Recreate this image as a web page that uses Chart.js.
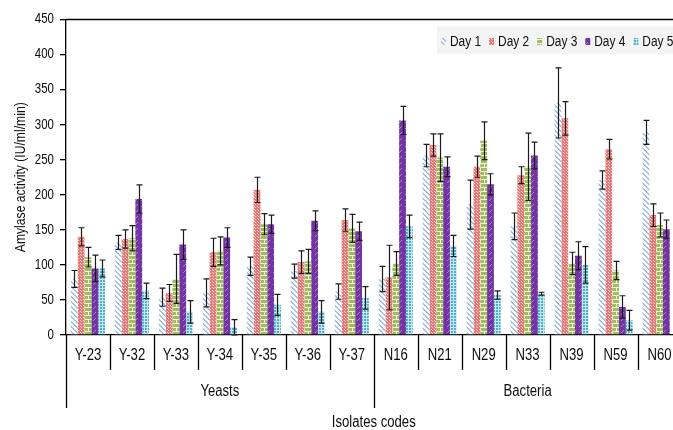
<!DOCTYPE html>
<html>
<head>
<meta charset="utf-8">
<title>Amylase activity</title>
<script src="https://cdn.jsdelivr.net/npm/chart.js@4.4.1/dist/chart.umd.min.js"></script>
<style>
  html, body { margin: 0; padding: 0; background: #fff; overflow: hidden; }
  #wrap { width: 690px; height: 430px; position: relative; }
</style>
</head>
<body>
<div id="wrap"><canvas id="c" width="690" height="430"></canvas></div>
<script>
// Isolate codes and their groups
const categories = ['Y-23','Y-32','Y-33','Y-34','Y-35','Y-36','Y-37','N16','N21','N29','N33','N39','N59','N60'];
const groupNames = ['Yeasts', 'Bacteria'];
const groupSizes = [7, 7];
const dayLabels = ['Day 1','Day 2','Day 3','Day 4','Day 5'];
const yTicks = [0, 50, 100, 150, 200, 250, 300, 350, 400, 450];

// Mean amylase activity (IU/ml/min) per day
const day1 = [80, 132, 54, 60, 98, 91, 62, 80, 256, 186, 155, 331, 221, 289];
const day2 = [140, 137, 60, 118, 207, 104, 164, 82, 271, 240, 228, 309, 265, 171];
const day3 = [111, 138, 80, 120, 158, 105, 152, 102, 253, 277, 240, 102, 92, 157];
const day4 = [95, 194, 129, 139, 158, 163, 148, 306, 240, 215, 256, 113, 40, 151];
const day5 = [95, 63, 33, 11, 43, 33, 53, 155, 127, 57, 59, 100, 21, null];

// Standard deviations
const sd1 = [12, 10, 13, 20, 13, 10, 11, 18, 16, 35, 19, 50, 13, 17];
const sd2 = [13, 13, 12, 20, 18, 16, 16, 46, 16, 15, 12, 24, 14, 16];
const sd3 = [14, 18, 35, 20, 15, 17, 20, 17, 34, 27, 48, 16, 13, 17];
const sd4 = [19, 20, 21, 14, 13, 14, 13, 20, 14, 15, 19, 20, 16, 13];
const sd5 = [12, 11, 16, 11, 15, 16, 16, 16, 15, 6, 2, 26, 14, null];

const FONT = '"Liberation Sans", Arial, sans-serif';

// Small repeating fills for each day
function tile(w, h, paint) {
  const c = document.createElement('canvas');
  c.width = w; c.height = h;
  const g = c.getContext('2d');
  paint(g, w, h);
  return g.createPattern(c, 'repeat');
}
const fills = [
  tile(5, 5, (g, w) => {            // light blue hatching
    g.fillStyle = '#ffffff'; g.fillRect(0, 0, w, w);
    g.fillStyle = '#a3bfe6';
    for (let i = 0; i < w; i++) { g.fillRect(i, i, 1, 1); g.fillRect(i, (i + 1) % w, 1, 1); }
  }),
  tile(3, 3, (g) => {               // red check
    g.fillStyle = '#e67a78'; g.fillRect(0, 0, 3, 3);
    g.fillStyle = '#f8d0cd'; g.fillRect(0, 0, 1, 1); g.fillRect(2, 2, 1, 1);
  }),
  tile(8, 8, (g) => {               // green brick
    g.fillStyle = '#9fbc5e'; g.fillRect(0, 0, 8, 8);
    g.fillStyle = '#eef3dc';
    g.fillRect(0, 3, 8, 1); g.fillRect(0, 7, 8, 1);
    g.fillRect(0, 0, 1, 3); g.fillRect(4, 4, 1, 3);
  }),
  tile(6, 6, (g, w) => {            // purple with light dashes
    g.fillStyle = '#7434a4'; g.fillRect(0, 0, w, w);
    g.fillStyle = '#a883cc';
    for (let i = 0; i < 3; i++) g.fillRect(w - 1 - i, i, 1, 1);
  }),
  tile(3, 3, (g) => {               // teal grid
    g.fillStyle = '#4cb0c9'; g.fillRect(0, 0, 3, 3);
    g.fillStyle = '#c7e7ef'; g.fillRect(0, 0, 3, 1); g.fillRect(0, 0, 1, 3);
  })
];

const series = [day1, day2, day3, day4, day5];
const errors = [sd1, sd2, sd3, sd4, sd5];

// narrow text helper: size in px, horizontal squeeze factor
function text(ctx, s, x, y, align, size, squeeze) {
  ctx.save();
  ctx.font = size + 'px ' + FONT;
  ctx.translate(x, y);
  ctx.scale(squeeze, 1);
  ctx.textAlign = align;
  ctx.textBaseline = 'middle';
  ctx.fillText(s, 0, 0);
  const w = ctx.measureText(s).width * squeeze;
  ctx.restore();
  return w;
}

// Error bars on top of every bar
const errorBarPlugin = {
  id: 'errorBars',
  afterDatasetsDraw(chart) {
    const ctx = chart.ctx, y = chart.scales.y;
    ctx.save();
    ctx.strokeStyle = '#1a1a1a';
    ctx.lineWidth = 1.2;
    chart.data.datasets.forEach((ds, i) => {
      const meta = chart.getDatasetMeta(i);
      meta.data.forEach((bar, j) => {
        const v = ds.data[j], e = errors[i][j];
        if (v == null || e == null) return;
        const x = Math.round(bar.x) + 0.5;
        const top = y.getPixelForValue(v + e), bot = y.getPixelForValue(v - e);
        ctx.beginPath();
        ctx.moveTo(x, top); ctx.lineTo(x, bot);
        ctx.moveTo(x - 3, top); ctx.lineTo(x + 3, top);
        ctx.moveTo(x - 3, bot); ctx.lineTo(x + 3, bot);
        ctx.stroke();
      });
    });
    ctx.restore();
  }
};

// Frame line, tick labels, category separators, group labels, titles and legend
const decorPlugin = {
  id: 'decor',
  afterDraw(chart) {
    const ctx = chart.ctx, area = chart.chartArea, xs = chart.scales.x, ys = chart.scales.y;
    const n = categories.length;
    const step = (area.right - area.left) / n;
    ctx.save();
    ctx.strokeStyle = '#000';
    ctx.lineWidth = 1.3;
    // top frame
    ctx.beginPath();
    ctx.moveTo(area.left, area.top); ctx.lineTo(area.right, area.top);
    ctx.stroke();
    // separators below the axis
    const bounds = [0];
    groupSizes.reduce((acc, s) => { bounds.push(acc + s); return acc + s; }, 0);
    for (let k = 0; k <= n; k++) {
      const bx = Math.round(area.left + k * step) + 0.5;
      const long = bounds.includes(k);
      ctx.beginPath();
      ctx.moveTo(bx, area.bottom);
      ctx.lineTo(bx, long ? 408 : 370);
      ctx.stroke();
    }
    ctx.fillStyle = '#0d0d0d';
    // tick labels
    yTicks.forEach(v => text(ctx, String(v), 54, ys.getPixelForValue(v), 'right', 14, 0.82));
    categories.forEach((c, i) => text(ctx, c, xs.getPixelForValue(i), 356, 'center', 16, 0.82));
    // group labels
    for (let g = 0; g < groupNames.length; g++) {
      const a = area.left + bounds[g] * step, b = area.left + bounds[g + 1] * step;
      text(ctx, groupNames[g], (a + b) / 2, 392, 'center', 16, 0.82);
    }
    text(ctx, 'Isolates codes', (area.left + area.right) / 2, 423, 'center', 16, 0.82);
    // y-axis title
    ctx.save();
    ctx.translate(21, (area.top + area.bottom) / 2);
    ctx.rotate(-Math.PI / 2);
    text(ctx, 'Amylase activity (IU/ml/min)', 0, 0, 'center', 15, 0.81);
    ctx.restore();
    // legend
    ctx.fillStyle = '#f4f4f4';
    ctx.fillRect(437, 26, 260, 28);
    let lx = 441;
    dayLabels.forEach((lab, i) => {
      ctx.fillStyle = fills[i];
      ctx.fillRect(lx, 38, 5, 7);
      ctx.fillStyle = '#0d0d0d';
      const w = text(ctx, lab, lx + 9, 42, 'left', 14, 0.85);
      lx += 9 + w + 8;
    });
    ctx.restore();
  }
};

new Chart(document.getElementById('c'), {
  type: 'bar',
  data: {
    labels: categories,
    datasets: series.map((d, i) => ({
      label: dayLabels[i],
      data: d,
      backgroundColor: fills[i],
      borderWidth: 0,
      barPercentage: 1.0,
      categoryPercentage: 0.775
    }))
  },
  options: {
    responsive: false,
    animation: false,
    devicePixelRatio: 1,
    layout: { padding: { left: 0, right: 8.5, top: 19.5, bottom: 0 } },
    plugins: { legend: { display: false }, tooltip: { enabled: false } },
    scales: {
      x: {
        offset: true,
        grid: { display: false },
        border: { color: '#000', width: 1.3 },
        ticks: { display: false },
        afterFit(s) { s.height = 95; }
      },
      y: {
        min: 0, max: 450,
        afterBuildTicks(s) { s.ticks = yTicks.map(v => ({ value: v })); },
        grid: { drawOnChartArea: false, color: '#000', tickLength: 6, lineWidth: 1.3 },
        border: { color: '#000', width: 1.3 },
        ticks: { display: false },
        afterFit(s) { s.width = 66; }
      }
    }
  },
  plugins: [errorBarPlugin, decorPlugin]
});
</script>
</body>
</html>
